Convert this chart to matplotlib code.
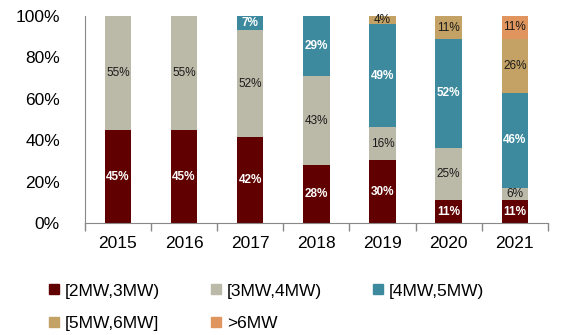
import numpy as np
import matplotlib
matplotlib.use('Agg')
import matplotlib.pyplot as plt
from matplotlib.lines import Line2D

plt.rcParams['font.family'] = ['Liberation Sans', 'DejaVu Sans']

years = ['2015', '2016', '2017', '2018', '2019', '2020', '2021']
classes = ['[2MW,3MW)', '[3MW,4MW)', '[4MW,5MW)', '[5MW,6MW]', '>6MW']
share_2_3 = [45, 45, 42, 28, 30, 11, 11]
share_3_4 = [55, 55, 52, 43, 16, 25, 6]
share_4_5 = [0, 0, 7, 29, 49, 52, 46]
share_5_6 = [0, 0, 0, 0, 4, 11, 26]
share_6up = [0, 0, 0, 0, 0, 0, 11]

colors = ['#600000', '#BBB9A8', '#3D8A9E', '#C4A265', '#E0955F']
text_colors = ['white', '#1a1a1a', 'white', '#1a1a1a', '#1a1a1a']

data = np.array([share_2_3, share_3_4, share_4_5, share_5_6, share_6up], dtype=float)
# bars are drawn as shares of 100%
norm = data / data.sum(axis=0) * 100

fig = plt.figure(figsize=(5.66, 3.35), dpi=100)
ax = fig.add_axes([0.150, 0.334, 0.818, 0.618])

x = np.arange(len(years))
bottom = np.zeros(len(years))
for i in range(len(classes)):
    ax.bar(x, norm[i], 0.4, bottom=bottom, color=colors[i], label=classes[i])
    for j in range(len(years)):
        if data[i, j] > 0:
            ax.text(x[j], bottom[j] + norm[i, j] / 2, '%d%%' % data[i, j],
                    ha='center', va='center', fontsize=8.5, color=text_colors[i],
                    fontweight='bold' if text_colors[i] == 'white' else 'normal')
    bottom += norm[i]

ax.set_xlim(-0.5, len(years) - 0.5)
ax.set_ylim(0, 100)
ax.set_yticks(np.arange(0, 101, 20))
ax.set_yticklabels(['%d%%' % v for v in range(0, 101, 20)], fontsize=12.5)
ax.tick_params(axis='y', length=0, pad=18)
ax.set_xticks(x)
ax.set_xticklabels(years, fontsize=12.5)
ax.set_xticks(np.arange(-0.5, len(years)), minor=True)
ax.tick_params(axis='x', which='major', length=0, pad=9)
ax.tick_params(axis='x', which='minor', length=6, color='#888888', width=1)

for s in ['top', 'right']:
    ax.spines[s].set_visible(False)
for s in ['left', 'bottom']:
    ax.spines[s].set_color('#888888')

handles = [Line2D([], [], marker='s', linestyle='none', markersize=6.5,
                  markerfacecolor=c, markeredgecolor=c) for c in colors]
# legend fills by column, so reorder to read row by row
order = [0, 3, 1, 4, 2]
fig.legend([handles[k] for k in order], [classes[k] for k in order],
           loc='upper left', bbox_to_anchor=(0.087, 0.154),
           ncol=3, frameon=False, fontsize=12.5, handlelength=0.6,
           handletextpad=0.3, columnspacing=2.95, labelspacing=0.98,
           borderaxespad=0, borderpad=0)

fig.savefig('out.png', dpi=100)
